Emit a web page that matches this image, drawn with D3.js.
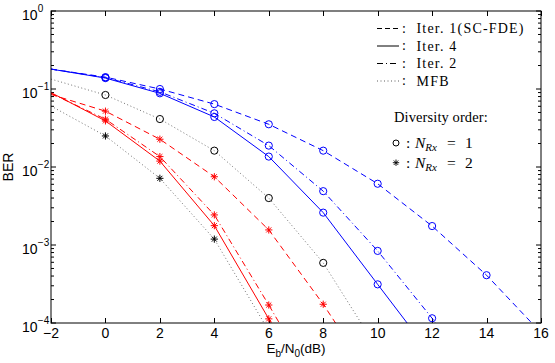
<!DOCTYPE html>
<html>
<head>
<meta charset="utf-8">
<script src="https://cdn.jsdelivr.net/npm/d3@7"></script>
<style>
  body { margin: 0; background: #fff; }
</style>
</head>
<body>
<svg id="chart" width="555" height="363"></svg>
<script>
// ── BER vs Eb/N0, SC-FDE iterations ──

const snr = [-2, 0, 2, 4, 6, 8, 10, 12, 14, 16]
const xTicks = [-2, 0, 2, 4, 6, 8, 10, 12, 14, 16]
const yExps = [0, -1, -2, -3, -4]

// N_Rx = 1 (blue circles / black circles for MFB)
const rx1Iter1 = [0.18, 0.142, 0.100, 0.064, 0.0353, 0.0162, 0.0061, 0.00175, 4.1e-4, 7.5e-5]
const rx1Iter2 = [0.18, 0.14, 0.092, 0.0488, 0.0188, 0.0049, 8.4e-4, 1.15e-4, 1.2e-5]
const rx1Iter4 = [0.18, 0.138, 0.088, 0.0438, 0.0136, 0.0026, 3.13e-4, 3.8e-5]
const rx1Mfb = [0.134, 0.0838, 0.0412, 0.0162, 0.0040, 5.9e-4, 4.6e-5]

// N_Rx = 2 (red stars / black stars for MFB)
const rx2Iter1 = [0.085, 0.052, 0.0227, 0.0075, 0.00156, 1.74e-4, 1.5e-5]
const rx2Iter2 = [0.088, 0.041, 0.0136, 0.00243, 1.7e-4, 1.1e-5]
const rx2Iter4 = [0.09, 0.039, 0.0119, 0.00177, 1.13e-4, 7.9e-6]
const rx2Mfb = [0.0605, 0.025, 0.00716, 0.00119, 7.9e-5]

const legendLabels = ['Iter. 1(SC-FDE)', 'Iter. 4', 'Iter. 2', 'MFB']

const dashes = {
  dashed: '6,4',
  solid: null,
  dashdot: '6,3,1,3',
  dotted: '1,2.5',
}

const series = [
  { values: rx1Iter1, color: '#0000ff', dash: 'dashed', marker: 'circle' },
  { values: rx1Iter2, color: '#0000ff', dash: 'dashdot', marker: 'circle' },
  { values: rx1Iter4, color: '#0000ff', dash: 'solid', marker: 'circle' },
  { values: rx1Mfb, color: '#000', dash: 'dotted', marker: 'circle' },
  { values: rx2Iter1, color: '#ff0000', dash: 'dashed', marker: 'star' },
  { values: rx2Iter2, color: '#ff0000', dash: 'dashdot', marker: 'star' },
  { values: rx2Iter4, color: '#ff0000', dash: 'solid', marker: 'star' },
  { values: rx2Mfb, color: '#000', dash: 'dotted', marker: 'star' },
]

const margin = { left: 51, right: 14, top: 11, bottom: 40 }
const W = 555, H = 363
const x = d3.scaleLinear().domain([-2, 16]).range([margin.left, W - margin.right])
const y = d3.scaleLog().domain([1e-4, 1]).range([H - margin.bottom, margin.top])

const svg = d3.select('#chart')
const sans = 'Liberation Sans, Arial, sans-serif'
const serif = 'Liberation Serif, Times New Roman, serif'

svg.append('defs').append('clipPath').attr('id', 'plotClip')
  .append('rect')
  .attr('x', x(-2)).attr('y', y(1))
  .attr('width', x(16) - x(-2)).attr('height', y(1e-4) - y(1))

// ticks (inward, on all four sides)
const ax = svg.append('g').attr('stroke', '#000').attr('stroke-width', 1)
xTicks.forEach(t => {
  const px = Math.round(x(t)) + 0.5
  ax.append('line').attr('x1', px).attr('x2', px).attr('y1', y(1e-4)).attr('y2', y(1e-4) - 5)
  ax.append('line').attr('x1', px).attr('x2', px).attr('y1', y(1)).attr('y2', y(1) + 5)
})
yExps.forEach(e => {
  const py = y(Math.pow(10, e))
  ax.append('line').attr('x1', x(-2)).attr('x2', x(-2) + 5).attr('y1', py).attr('y2', py)
  ax.append('line').attr('x1', x(16)).attr('x2', x(16) - 5).attr('y1', py).attr('y2', py)
  if (e === 0) return
  for (let m = 2; m <= 9; m++) {
    const pm = y(m * Math.pow(10, e))
    ax.append('line').attr('x1', x(-2)).attr('x2', x(-2) + 3).attr('y1', pm).attr('y2', pm)
    ax.append('line').attr('x1', x(16)).attr('x2', x(16) - 3).attr('y1', pm).attr('y2', pm)
  }
})

// x tick labels
svg.append('g').selectAll('text')
  .data(xTicks)
  .join('text')
  .attr('x', d => x(d))
  .attr('y', y(1e-4) + 14.5)
  .attr('text-anchor', 'middle')
  .attr('font-family', sans)
  .attr('font-size', 14)
  .text(d => d < 0 ? '\u2212' + Math.abs(d) : d)

// y tick labels, 10^k
const yl = svg.append('g').attr('font-family', sans)
yExps.forEach(e => {
  const py = y(Math.pow(10, e))
  yl.append('text').attr('x', 37.5).attr('y', py + 9).attr('text-anchor', 'end')
    .attr('font-size', 14).text('10')
  yl.append('text').attr('x', 37.8).attr('y', py + 1).attr('text-anchor', 'start')
    .attr('font-size', 10).text(e < 0 ? '\u2212' + Math.abs(e) : e)
})

// axis labels
svg.append('text')
  .attr('transform', `translate(12.5,${(y(1) + y(1e-4)) / 2}) rotate(-90)`)
  .attr('text-anchor', 'middle')
  .attr('font-family', sans)
  .attr('font-size', 14)
  .text('BER')

const xl = svg.append('text')
  .attr('x', 296).attr('y', 353)
  .attr('text-anchor', 'middle')
  .attr('font-family', sans)
  .attr('font-size', 13.5)
xl.append('tspan').text('E')
xl.append('tspan').attr('font-size', 10).attr('dy', 4).text('b')
xl.append('tspan').attr('dy', -4).text('/N')
xl.append('tspan').attr('font-size', 10).attr('dy', 4).text('0')
xl.append('tspan').attr('dy', -4).text('(dB)')

// curves
const line = d3.line()
  .x((d, i) => x(snr[i]))
  .y(d => y(d))

const plot = svg.append('g')
plot.append('g').attr('clip-path', 'url(#plotClip)')
  .selectAll('path')
  .data(series)
  .join('path')
  .attr('d', s => line(s.values))
  .attr('fill', 'none')
  .attr('stroke', s => s.dash === 'dotted' ? '#333' : s.color)
  .attr('stroke-width', s => s.dash === 'dotted' ? 0.7 : 1)
  .attr('stroke-dasharray', s => dashes[s.dash])

const starPath = r => {
  const a = r * 0.7
  return `M${-r},0L${r},0M0,${-r}L0,${r}M${-a},${-a}L${a},${a}M${-a},${a}L${a},${-a}`
}

// markers at every computed point except the first, only when in range
series.forEach(s => {
  const pts = s.values.map((v, i) => ({ sx: snr[i], v })).filter((p, i) => i > 0 && p.v >= 1e-4)
  const g = plot.append('g')
  if (s.marker === 'circle') {
    g.selectAll('circle').data(pts).join('circle')
      .attr('cx', p => x(p.sx)).attr('cy', p => y(p.v)).attr('r', 3.6)
      .attr('fill', 'none').attr('stroke', s.color).attr('stroke-width', 1)
  } else {
    g.selectAll('path').data(pts).join('path')
      .attr('transform', p => `translate(${x(p.sx)},${y(p.v)})`)
      .attr('d', starPath(3.6))
      .attr('fill', 'none').attr('stroke', s.color).attr('stroke-width', 1)
  }
})

// frame
svg.append('rect')
  .attr('x', x(-2)).attr('y', y(1))
  .attr('width', x(16) - x(-2)).attr('height', y(1e-4) - y(1))
  .attr('fill', 'none').attr('stroke', '#000').attr('stroke-width', 1)

// legend (line styles)
const legendDash = ['5,3', null, '6,3,1,3', '1,2.5']
const lg = svg.append('g').attr('font-family', serif).attr('font-size', 14)
legendLabels.forEach((lab, i) => {
  const ly = 28.5 + i * 17.5
  lg.append('line').attr('x1', 377).attr('x2', 399).attr('y1', ly).attr('y2', ly)
    .attr('stroke', i === 3 ? '#333' : '#000').attr('stroke-width', i === 3 ? 0.8 : 1)
    .attr('stroke-dasharray', legendDash[i])
  lg.append('text').attr('x', 402).attr('y', ly + 4).text(':')
  lg.append('text').attr('x', 416.5).attr('y', ly + 4.5)
    .attr('letter-spacing', 1.2).text(lab)
})

// legend (diversity order)
const dg = svg.append('g').attr('font-family', serif).attr('font-size', 14.5)
dg.append('text').attr('x', 394).attr('y', 121.5).attr('letter-spacing', 0.1).text('Diversity order:')
const divRows = [{ sym: 'circle', n: 1 }, { sym: 'star', n: 2 }]
divRows.forEach((r, i) => {
  const ry = 143 + i * 19.7
  if (r.sym === 'circle') {
    dg.append('circle').attr('cx', 396).attr('cy', ry).attr('r', 3).attr('fill', 'none')
      .attr('stroke', '#000').attr('stroke-width', 1)
  } else {
    dg.append('path').attr('transform', `translate(396,${ry})`).attr('d', starPath(3.2))
      .attr('fill', 'none').attr('stroke', '#000').attr('stroke-width', 0.9)
  }
  dg.append('text').attr('x', 406).attr('y', ry + 5).attr('font-size', 15.5).text(':')
  const t = dg.append('text').attr('x', 415).attr('y', ry + 5).attr('font-size', 15.5)
  t.append('tspan').attr('font-style', 'italic').text('N')
  t.append('tspan').attr('font-style', 'italic').attr('font-size', 11).attr('dy', 3).text('Rx')
  dg.append('text').attr('x', 447).attr('y', ry + 5).attr('font-size', 15.5).text('=')
  dg.append('text').attr('x', 465).attr('y', ry + 5).attr('font-size', 15.5).text(r.n)
})
</script>
</body>
</html>
